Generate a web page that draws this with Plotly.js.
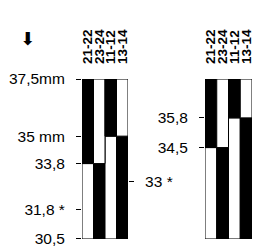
<!DOCTYPE html>
<html>
<head>
<meta charset="utf-8">
<script src="https://cdn.plot.ly/plotly-3.0.1.min.js"></script>
<style>html,body{margin:0;padding:0;background:#fff;}#chart{width:253px;height:247px;}</style>
</head>
<body>
<div id="chart"></div>
<script>
// categories (tooth pairs)
const cols = ["21-22", "23-24", "11-12", "13-14"];
// split values (mm) where each column changes colour
const leftSplits = [33.8, 33.8, 35, 35];
const rightSplits = [34.5, 34.5, 35.8, 35.8];
const yMin = 30.5, yMax = 37.5;
// colours of the segments below and above the split
const lowerColors = ["white", "black", "white", "black"];
const upperColors = ["black", "white", "black", "white"];
// axis ticks
const leftTickVals = [37.5, 35, 33.8, 31.8, 30.5];
const leftTickText = ["37,5mm", "35 mm", "33,8", "31,8 *", "30,5"];
const leftRightTickVals = [33];
const leftRightTickText = ["33 *"];
const rightTickVals = [35.8, 34.5];
const rightTickText = ["35,8", "34,5"];

function segs(splits, xa, ya) {
  return [
    {type: "bar", x: cols, base: splits.map(() => yMin), y: splits.map(s => s - yMin),
     marker: {color: lowerColors, line: {color: "black", width: 1}}, xaxis: xa, yaxis: ya,
     hoverinfo: "skip", showlegend: false},
    {type: "bar", x: cols, base: splits, y: splits.map(s => yMax - s),
     marker: {color: upperColors, line: {color: "black", width: 1}}, xaxis: xa, yaxis: ya,
     hoverinfo: "skip", showlegend: false}
  ];
}

const data = [...segs(leftSplits, "x", "y"), ...segs(rightSplits, "x2", "y2"),
  {type: "scatter", x: [cols[0]], y: [33], xaxis: "x", yaxis: "y3", mode: "markers",
   marker: {opacity: 0}, hoverinfo: "skip", showlegend: false}];

const tickFont = {family: "Liberation Sans, Arial, sans-serif", size: 15.5, color: "black"};
const colFont = {family: "Liberation Sans, Arial, sans-serif", size: 13.5, color: "black", weight: "bold"};
const yDom = [1 - 239/247, 1 - 79/247];

const xCommon = {type: "category", side: "top", tickangle: -90, ticks: "", showgrid: false,
  zeroline: false, showline: false, tickfont: colFont, ticklabelstandoff: 14, fixedrange: true,
  tickmode: "array", tickvals: cols, ticktext: cols, range: [-0.5, 3.5]};
const yCommon = {range: [yMin - 0.001, yMax + 0.001], showgrid: false, zeroline: false, showline: false,
  ticks: "outside", ticklen: 5, tickwidth: 1, tickcolor: "black", tickfont: tickFont,
  ticklabelstandoff: 8, tickmode: "array", automargin: false, ticklabeloverflow: "allow"};

const layout = {
  width: 253, height: 247,
  margin: {l: 0, r: 0, t: 0, b: 0},
  paper_bgcolor: "white", plot_bgcolor: "white",
  barmode: "overlay", bargap: 0,
  xaxis: Object.assign({}, xCommon, {domain: [82/253, 128/253], anchor: "y"}),
  xaxis2: Object.assign({}, xCommon, {domain: [205/253, 252/253], anchor: "y2"}),
  yaxis: Object.assign({}, yCommon, {domain: yDom, anchor: "x", tickvals: leftTickVals, ticktext: leftTickText}),
  yaxis2: Object.assign({}, yCommon, {domain: yDom, anchor: "x2", tickvals: rightTickVals, ticktext: rightTickText}),
  yaxis3: Object.assign({}, yCommon, {overlaying: "y", side: "right", anchor: "x", tickvals: leftRightTickVals, ticktext: leftRightTickText}),
  annotations: [{text: "⬇", xref: "paper", yref: "paper", x: 27/253, y: 1 - 38/247,
    xanchor: "center", yanchor: "middle",
    showarrow: false, font: {family: "DejaVu Sans", size: 18, color: "black"}}]
};

Plotly.newPlot("chart", data, layout, {staticPlot: true, displayModeBar: false});
</script>
</body>
</html>
